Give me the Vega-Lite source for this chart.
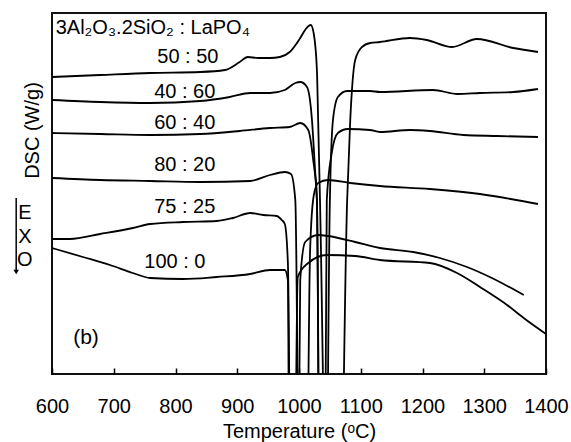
{
  "$schema": "https://vega.github.io/schema/vega-lite/v6.json",
  "width": 494,
  "height": 361,
  "autosize": {"type": "none"},
  "padding": {"left": 52, "top": 13, "right": 25, "bottom": 68},
  "config": {
    "view": {"stroke": "#111", "strokeWidth": 2},
    "font": "Liberation Sans",
    "axis": {"labelFont": "Liberation Sans", "titleFont": "Liberation Sans", "labelFontSize": 20, "titleFontSize": 20, "titleFontWeight": "normal", "labelColor": "#000", "titleColor": "#000", "grid": false}
  },
  "datasets": {
    "curves": [
      {"s": "50:50", "T": 600, "y": 297}, {"s": "50:50", "T": 678, "y": 299}, {"s": "50:50", "T": 759, "y": 301}, {"s": "50:50", "T": 840, "y": 302}, {"s": "50:50", "T": 880, "y": 304}, {"s": "50:50", "T": 904, "y": 312}, {"s": "50:50", "T": 917, "y": 317}, {"s": "50:50", "T": 934, "y": 316}, {"s": "50:50", "T": 953, "y": 316}, {"s": "50:50", "T": 969, "y": 317}, {"s": "50:50", "T": 985, "y": 322}, {"s": "50:50", "T": 1002, "y": 336}, {"s": "50:50", "T": 1011, "y": 345}, {"s": "50:50", "T": 1019, "y": 349}, {"s": "50:50", "T": 1024, "y": 340}, {"s": "50:50", "T": 1029, "y": 304}, {"s": "50:50", "T": 1031, "y": 254}, {"s": "50:50", "T": 1034, "y": 174}, {"s": "50:50", "T": 1056, "y": -600}, {"s": "50:50", "T": 1078, "y": 174}, {"s": "50:50", "T": 1083, "y": 254}, {"s": "50:50", "T": 1091, "y": 314}, {"s": "50:50", "T": 1102, "y": 327}, {"s": "50:50", "T": 1115, "y": 331}, {"s": "50:50", "T": 1131, "y": 332}, {"s": "50:50", "T": 1180, "y": 336}, {"s": "50:50", "T": 1207, "y": 334}, {"s": "50:50", "T": 1248, "y": 327}, {"s": "50:50", "T": 1288, "y": 335}, {"s": "50:50", "T": 1347, "y": 326}, {"s": "50:50", "T": 1387, "y": 322},

      {"s": "40:60", "T": 600, "y": 274}, {"s": "40:60", "T": 678, "y": 272}, {"s": "40:60", "T": 759, "y": 271}, {"s": "40:60", "T": 840, "y": 273}, {"s": "40:60", "T": 888, "y": 277}, {"s": "40:60", "T": 921, "y": 281}, {"s": "40:60", "T": 953, "y": 281}, {"s": "40:60", "T": 977, "y": 284}, {"s": "40:60", "T": 994, "y": 291}, {"s": "40:60", "T": 1002, "y": 292}, {"s": "40:60", "T": 1013, "y": 287}, {"s": "40:60", "T": 1021, "y": 254}, {"s": "40:60", "T": 1026, "y": 204}, {"s": "40:60", "T": 1029, "y": 174}, {"s": "40:60", "T": 1038, "y": -600}, {"s": "40:60", "T": 1050, "y": 174}, {"s": "40:60", "T": 1055, "y": 254}, {"s": "40:60", "T": 1063, "y": 277}, {"s": "40:60", "T": 1078, "y": 283}, {"s": "40:60", "T": 1115, "y": 283}, {"s": "40:60", "T": 1131, "y": 282}, {"s": "40:60", "T": 1217, "y": 284}, {"s": "40:60", "T": 1257, "y": 280}, {"s": "40:60", "T": 1293, "y": 281}, {"s": "40:60", "T": 1347, "y": 282}, {"s": "40:60", "T": 1387, "y": 285},

      {"s": "60:40", "T": 600, "y": 241}, {"s": "60:40", "T": 678, "y": 240}, {"s": "60:40", "T": 759, "y": 239}, {"s": "60:40", "T": 840, "y": 240}, {"s": "60:40", "T": 904, "y": 243}, {"s": "60:40", "T": 953, "y": 246}, {"s": "60:40", "T": 985, "y": 247}, {"s": "60:40", "T": 1002, "y": 251}, {"s": "60:40", "T": 1015, "y": 244}, {"s": "60:40", "T": 1023, "y": 214}, {"s": "60:40", "T": 1029, "y": 174}, {"s": "60:40", "T": 1037, "y": -600}, {"s": "60:40", "T": 1045, "y": 174}, {"s": "60:40", "T": 1053, "y": 221}, {"s": "60:40", "T": 1063, "y": 241}, {"s": "60:40", "T": 1079, "y": 245}, {"s": "60:40", "T": 1115, "y": 244}, {"s": "60:40", "T": 1131, "y": 242}, {"s": "60:40", "T": 1180, "y": 244}, {"s": "60:40", "T": 1212, "y": 243}, {"s": "60:40", "T": 1266, "y": 239}, {"s": "60:40", "T": 1321, "y": 238}, {"s": "60:40", "T": 1387, "y": 237},

      {"s": "80:20", "T": 600, "y": 196}, {"s": "80:20", "T": 678, "y": 194}, {"s": "80:20", "T": 759, "y": 193}, {"s": "80:20", "T": 840, "y": 192}, {"s": "80:20", "T": 921, "y": 193}, {"s": "80:20", "T": 953, "y": 199}, {"s": "80:20", "T": 977, "y": 202}, {"s": "80:20", "T": 987, "y": 200}, {"s": "80:20", "T": 994, "y": 174}, {"s": "80:20", "T": 1006, "y": -600}, {"s": "80:20", "T": 1018, "y": 124}, {"s": "80:20", "T": 1024, "y": 179}, {"s": "80:20", "T": 1031, "y": 191}, {"s": "80:20", "T": 1047, "y": 194}, {"s": "80:20", "T": 1083, "y": 191}, {"s": "80:20", "T": 1131, "y": 188}, {"s": "80:20", "T": 1212, "y": 185}, {"s": "80:20", "T": 1293, "y": 180}, {"s": "80:20", "T": 1387, "y": 170},

      {"s": "75:25", "T": 600, "y": 135}, {"s": "75:25", "T": 629, "y": 135}, {"s": "75:25", "T": 678, "y": 140}, {"s": "75:25", "T": 731, "y": 146}, {"s": "75:25", "T": 759, "y": 150}, {"s": "75:25", "T": 812, "y": 152}, {"s": "75:25", "T": 867, "y": 153}, {"s": "75:25", "T": 893, "y": 156}, {"s": "75:25", "T": 921, "y": 161}, {"s": "75:25", "T": 942, "y": 159}, {"s": "75:25", "T": 964, "y": 158}, {"s": "75:25", "T": 972, "y": 154}, {"s": "75:25", "T": 977, "y": 150}, {"s": "75:25", "T": 982, "y": 111}, {"s": "75:25", "T": 992, "y": -600}, {"s": "75:25", "T": 1002, "y": 94}, {"s": "75:25", "T": 1010, "y": 132}, {"s": "75:25", "T": 1031, "y": 139}, {"s": "75:25", "T": 1047, "y": 138}, {"s": "75:25", "T": 1091, "y": 132}, {"s": "75:25", "T": 1131, "y": 126}, {"s": "75:25", "T": 1185, "y": 122}, {"s": "75:25", "T": 1228, "y": 116}, {"s": "75:25", "T": 1272, "y": 107}, {"s": "75:25", "T": 1309, "y": 97}, {"s": "75:25", "T": 1364, "y": 79},

      {"s": "100:0", "T": 600, "y": 126}, {"s": "100:0", "T": 650, "y": 117}, {"s": "100:0", "T": 694, "y": 109}, {"s": "100:0", "T": 731, "y": 101}, {"s": "100:0", "T": 759, "y": 96}, {"s": "100:0", "T": 812, "y": 95}, {"s": "100:0", "T": 867, "y": 97}, {"s": "100:0", "T": 921, "y": 100}, {"s": "100:0", "T": 953, "y": 104}, {"s": "100:0", "T": 977, "y": 104}, {"s": "100:0", "T": 982, "y": 94}, {"s": "100:0", "T": 987, "y": -600}, {"s": "100:0", "T": 998, "y": 97}, {"s": "100:0", "T": 1015, "y": 111}, {"s": "100:0", "T": 1045, "y": 119}, {"s": "100:0", "T": 1091, "y": 118}, {"s": "100:0", "T": 1131, "y": 114}, {"s": "100:0", "T": 1212, "y": 111}, {"s": "100:0", "T": 1256, "y": 101}, {"s": "100:0", "T": 1293, "y": 87}, {"s": "100:0", "T": 1337, "y": 69}, {"s": "100:0", "T": 1366, "y": 55}, {"s": "100:0", "T": 1400, "y": 40}
    ],
    "labels": [
      {"t": "50 : 50", "T": 820, "y": 317},
      {"t": "40 : 60", "T": 815, "y": 282},
      {"t": "60 : 40", "T": 815, "y": 251},
      {"t": "80 : 20", "T": 815, "y": 209},
      {"t": "75 : 25", "T": 815, "y": 167},
      {"t": "100 : 0", "T": 799, "y": 112}
    ],
    "header": [{"t": "3Al₂O₃.2SiO₂ : LaPO₄", "T": 606, "y": 346}],
    "panel": [{"t": "(b)", "T": 655, "y": 36}],
    "exo": [
      {"t": "E", "T": 556, "y": 161},
      {"t": "X", "T": 556, "y": 137},
      {"t": "O", "T": 556, "y": 114}
    ],
    "arrow": [{"T": 542, "y": 176, "y2": 104}],
    "arrowhead": [{"T": 542, "y": 102}]
  },
  "layer": [
    {
      "data": {"name": "curves"},
      "mark": {"type": "line", "interpolate": "monotone", "clip": true, "color": "#000", "strokeWidth": 1.8},
      "encoding": {
        "x": {"field": "T", "type": "quantitative", "scale": {"domain": [600, 1400], "nice": false, "zero": false},
          "axis": {"title": "Temperature (ᵒC)", "values": [600, 650, 700, 750, 800, 850, 900, 950, 1000, 1050, 1100, 1150, 1200, 1250, 1300, 1350, 1400],
            "labelExpr": "datum.value % 100 === 0 ? datum.label : ''", "format": "d", "domain": false, "tickSize": -6, "tickColor": "#000", "tickWidth": 1.5, "labelPadding": 28, "labelFlush": false, "titlePadding": 5}},
        "y": {"field": "y", "type": "quantitative", "scale": {"domain": [0, 361], "nice": false, "zero": false},
          "axis": {"title": "DSC (W/g)", "labels": false, "ticks": false, "domain": false, "titlePadding": 10, "titleY": 117}},
        "detail": {"field": "s"}
      }
    },
    {
      "data": {"name": "labels"},
      "mark": {"type": "text", "font": "Liberation Sans", "fontSize": 20, "color": "#000", "align": "center", "baseline": "middle"},
      "encoding": {"x": {"field": "T", "type": "quantitative"}, "y": {"field": "y", "type": "quantitative"}, "text": {"field": "t"}}
    },
    {
      "data": {"name": "header"},
      "mark": {"type": "text", "font": "Liberation Sans", "fontSize": 20, "color": "#000", "align": "left", "baseline": "middle"},
      "encoding": {"x": {"field": "T", "type": "quantitative"}, "y": {"field": "y", "type": "quantitative"}, "text": {"field": "t"}}
    },
    {
      "data": {"name": "panel"},
      "mark": {"type": "text", "font": "Liberation Sans", "fontSize": 21, "color": "#000", "align": "center", "baseline": "middle"},
      "encoding": {"x": {"field": "T", "type": "quantitative"}, "y": {"field": "y", "type": "quantitative"}, "text": {"field": "t"}}
    },
    {
      "data": {"name": "exo"},
      "mark": {"type": "text", "font": "Liberation Sans", "fontSize": 20, "color": "#000", "align": "center", "baseline": "middle", "clip": false},
      "encoding": {"x": {"field": "T", "type": "quantitative"}, "y": {"field": "y", "type": "quantitative"}, "text": {"field": "t"}}
    },
    {
      "data": {"name": "arrow"},
      "mark": {"type": "rule", "color": "#000", "strokeWidth": 1.5},
      "encoding": {"x": {"field": "T", "type": "quantitative"}, "y": {"field": "y", "type": "quantitative"}, "y2": {"field": "y2"}}
    },
    {
      "data": {"name": "arrowhead"},
      "mark": {"type": "point", "shape": "triangle-down", "filled": true, "color": "#000", "size": 30, "opacity": 1},
      "encoding": {"x": {"field": "T", "type": "quantitative"}, "y": {"field": "y", "type": "quantitative"}}
    }
  ]
}
